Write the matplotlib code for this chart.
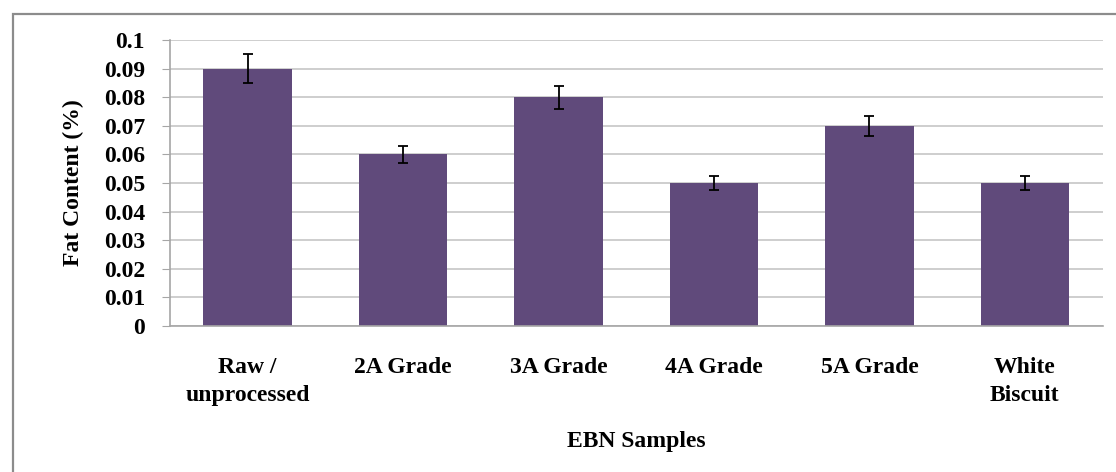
import matplotlib.pyplot as plt
from matplotlib.patches import Rectangle

# data
categories = ['Raw /\nunprocessed', '2A Grade', '3A Grade', '4A Grade', '5A Grade', 'White\nBiscuit']
fat_content = [0.09, 0.06, 0.08, 0.05, 0.07, 0.05]
fat_error = [0.005, 0.003, 0.004, 0.0025, 0.0035, 0.0025]
y_ticks = [0, 0.01, 0.02, 0.03, 0.04, 0.05, 0.06, 0.07, 0.08, 0.09, 0.1]
y_tick_labels = ['0', '0.01', '0.02', '0.03', '0.04', '0.05', '0.06', '0.07', '0.08', '0.09', '0.1']

plt.rcParams['font.family'] = ['Liberation Serif', 'DejaVu Serif']
plt.rcParams['font.weight'] = 'bold'

fig = plt.figure(figsize=(11.16, 4.72), dpi=100)
ax = fig.add_axes([0.1523, 0.3093, 0.8357, 0.606])

# outer chart frame (cut off at right/bottom like the reference)
fig.patches.append(Rectangle((13 / 1116, -0.1), 1.2, 1 - 14 / 472 + 0.1,
                             transform=fig.transFigure, fill=False,
                             edgecolor='#8c8c8c', linewidth=1.6))

x = range(len(categories))
ax.bar(x, fat_content, width=0.57, color='#604A7B', zorder=2)
ax.errorbar(x, fat_content, yerr=fat_error, fmt='none', ecolor='black',
            elinewidth=1.3, capsize=3.8, capthick=1.3, zorder=3)

ax.set_xlim(-0.5, len(categories) - 0.5)
ax.set_ylim(0, 0.1)
ax.set_yticks(y_ticks)
ax.set_yticklabels(y_tick_labels, fontsize=17, fontweight='bold')
ax.set_xticks(list(x))
ax.set_xticklabels(categories, fontsize=17, fontweight='bold', linespacing=1.45)
ax.tick_params(axis='x', length=0, pad=22)
ax.tick_params(axis='y', length=6, color='#a6a6a6', pad=12)

ax.yaxis.grid(True, color='#c6c6c6', linewidth=1.2, zorder=0)
ax.set_axisbelow(True)
for side in ['top', 'right']:
    ax.spines[side].set_visible(False)
ax.spines['left'].set_color('#a6a6a6')
ax.spines['bottom'].set_color('#a6a6a6')
ax.spines['left'].set_linewidth(1.2)
ax.spines['bottom'].set_linewidth(1.2)

ax.set_ylabel('Fat Content (%)', fontsize=17, fontweight='bold', labelpad=14)
ax.set_xlabel('EBN Samples', fontsize=17, fontweight='bold', labelpad=18)

plt.savefig('out.png', dpi=100)
